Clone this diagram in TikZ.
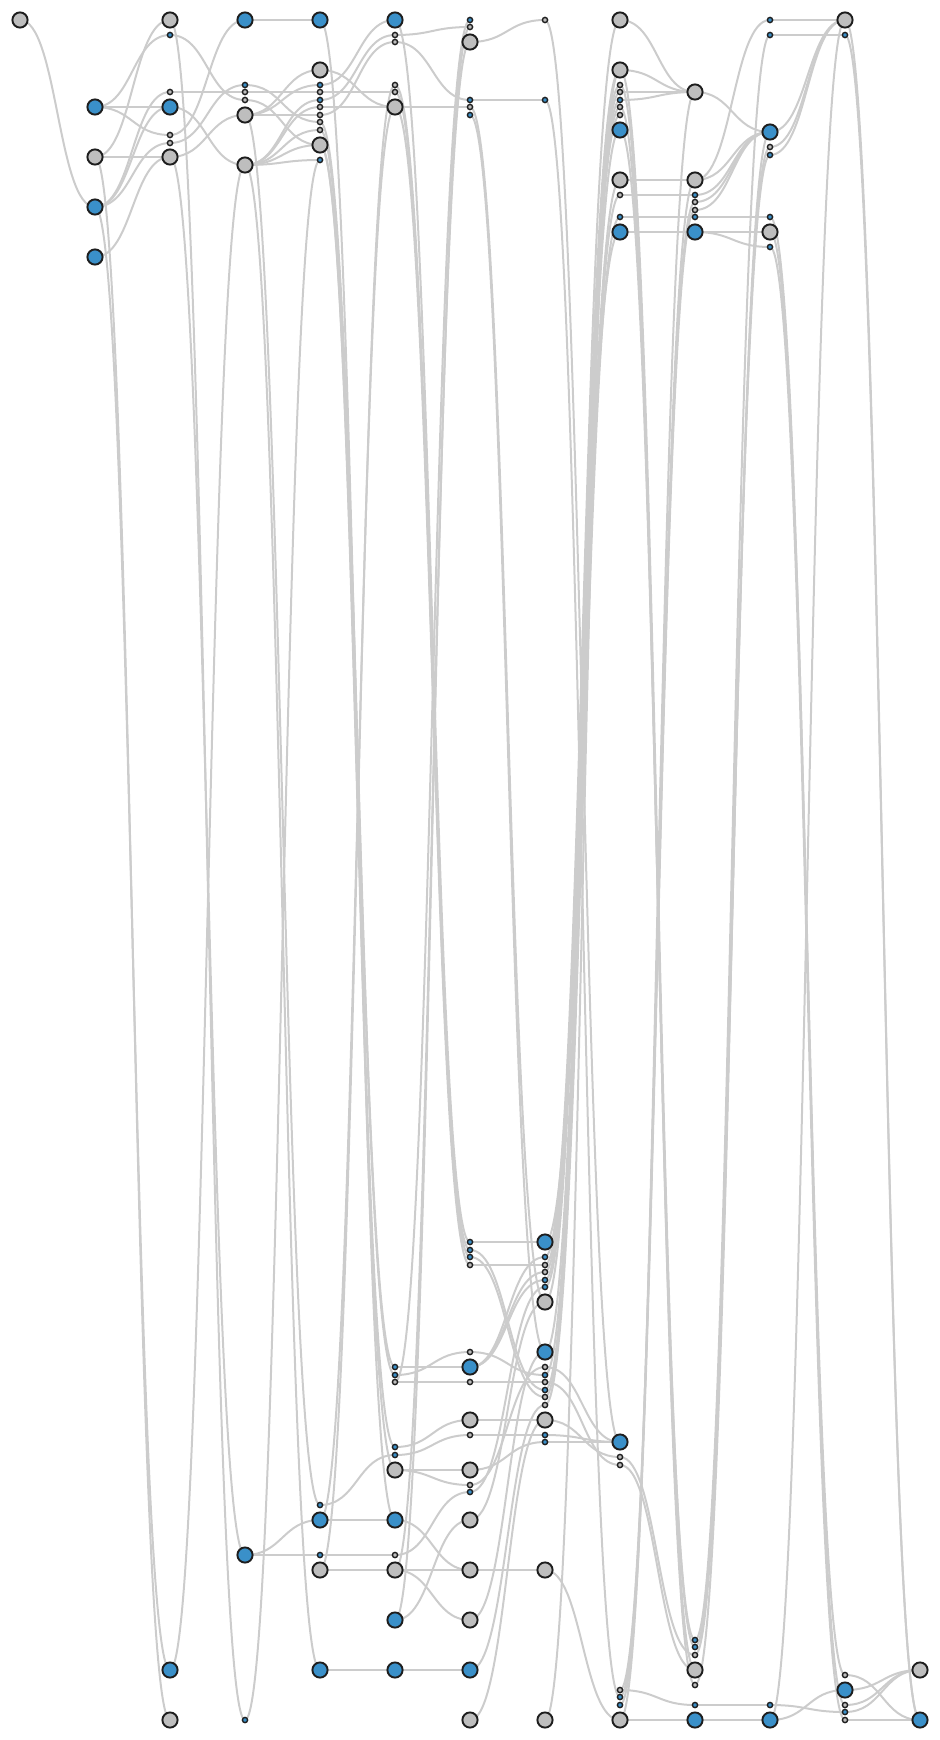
\documentclass[tikz,border=0pt]{standalone}
\usetikzlibrary{calc,backgrounds}
\definecolor{nblue}{HTML}{3A90C9}
\definecolor{ngray}{HTML}{BEBEBE}
\definecolor{edgec}{HTML}{CCCCCC}
\definecolor{nline}{HTML}{1E1E1E}
\tikzset{
  big/.style={circle,draw=nline,line width=0.95pt,minimum size=7.6pt,inner sep=0pt},
  sm/.style={circle,draw=nline,line width=0.7pt,minimum size=2.6pt,inner sep=0pt},
  bb/.style={big,fill=nblue}, bg/.style={big,fill=ngray},
  sb/.style={sm,fill=nblue}, sg/.style={sm,fill=ngray},
  link/.style={draw=edgec,line width=1pt}
}
\newcommand\lk[2]{\draw[link] let \p1=(#1.center),\p2=(#2.center) in (\p1) .. controls ({(\x1+\x2)/2},\y1) and ({(\x1+\x2)/2},\y2) .. (\p2);}
\begin{document}
\begin{tikzpicture}[x=0.5pt,y=-0.5pt]
\useasboundingbox (0,0) rectangle (940,1740);
% col 0
\node[bg] (a0) at (20,20) {};
% col 1
\node[bb] (b1) at (95,107) {};
\node[bg] (b2) at (95,157) {};
\node[bb] (b3) at (95,207) {};
\node[bb] (b4) at (95,257) {};
% col 2
\node[bg] (c1) at (170,20) {};
\node[sb] (c2) at (170,35) {};
\node[sg] (c3) at (170,92) {};
\node[bb] (c4) at (170,107) {};
\node[sg] (c5) at (170,135) {};
\node[sg] (c6) at (170,143) {};
\node[bg] (c7) at (170,157) {};
\node[bb] (c8) at (170,1670) {};
\node[bg] (c9) at (170,1720) {};
% col 3
\node[bb] (d1) at (245,20) {};
\node[sb] (d2) at (245,85) {};
\node[sg] (d3) at (245,92) {};
\node[sg] (d4) at (245,100) {};
\node[bg] (d5) at (245,115) {};
\node[bg] (d6) at (245,165) {};
\node[bb] (d7) at (245,1555) {};
\node[sb] (d8) at (245,1720) {};
% col 4
\node[bb] (e1) at (320,20) {};
\node[bg] (e2) at (320,70) {};
\node[sb] (e3) at (320,85) {};
\node[sg] (e4) at (320,92) {};
\node[sb] (e5) at (320,100) {};
\node[sg] (e6) at (320,107) {};
\node[sg] (e7) at (320,115) {};
\node[sg] (e8) at (320,122) {};
\node[sg] (e9) at (320,130) {};
\node[bg] (e10) at (320,145) {};
\node[sb] (e11) at (320,160) {};
\node[sb] (e12) at (320,1505) {};
\node[bb] (e13) at (320,1520) {};
\node[sb] (e14) at (320,1555) {};
\node[bg] (e15) at (320,1570) {};
\node[bb] (e16) at (320,1670) {};
% col 5
\node[bb] (f1) at (395,20) {};
\node[sg] (f2) at (395,35) {};
\node[sg] (f3) at (395,42) {};
\node[sg] (f4) at (395,85) {};
\node[sg] (f5) at (395,92) {};
\node[bg] (f6) at (395,107) {};
\node[sb] (f7) at (395,1367) {};
\node[sb] (f8) at (395,1375) {};
\node[sg] (f9) at (395,1382) {};
\node[sb] (f10) at (395,1447) {};
\node[sb] (f11) at (395,1455) {};
\node[bg] (f12) at (395,1470) {};
\node[bb] (f13) at (395,1520) {};
\node[sg] (f14) at (395,1555) {};
\node[bg] (f15) at (395,1570) {};
\node[bb] (f16) at (395,1620) {};
\node[bb] (f17) at (395,1670) {};
% col 6
\node[sb] (g1) at (470,20) {};
\node[sg] (g2) at (470,27) {};
\node[bg] (g3) at (470,42) {};
\node[sb] (g4) at (470,100) {};
\node[sg] (g5) at (470,107) {};
\node[sb] (g6) at (470,115) {};
\node[sb] (g7) at (470,1242) {};
\node[sb] (g8) at (470,1250) {};
\node[sb] (g9) at (470,1257) {};
\node[sg] (g10) at (470,1265) {};
\node[sg] (g11) at (470,1352) {};
\node[bb] (g12) at (470,1367) {};
\node[sg] (g13) at (470,1382) {};
\node[bg] (g14) at (470,1420) {};
\node[sg] (g15) at (470,1435) {};
\node[bg] (g16) at (470,1470) {};
\node[sg] (g17) at (470,1485) {};
\node[sb] (g18) at (470,1492) {};
\node[bg] (g19) at (470,1520) {};
\node[bg] (g20) at (470,1570) {};
\node[bg] (g21) at (470,1620) {};
\node[bb] (g22) at (470,1670) {};
\node[bg] (g23) at (470,1720) {};
% col 7
\node[sg] (h1) at (545,20) {};
\node[sb] (h2) at (545,100) {};
\node[bb] (h3) at (545,1242) {};
\node[sb] (h4) at (545,1257) {};
\node[sg] (h5) at (545,1265) {};
\node[sg] (h6) at (545,1272) {};
\node[sb] (h7) at (545,1280) {};
\node[sb] (h8) at (545,1287) {};
\node[bg] (h9) at (545,1302) {};
\node[bb] (h10) at (545,1352) {};
\node[sg] (h11) at (545,1367) {};
\node[sb] (h12) at (545,1375) {};
\node[sg] (h13) at (545,1382) {};
\node[sb] (h14) at (545,1390) {};
\node[sg] (h15) at (545,1397) {};
\node[sg] (h16) at (545,1405) {};
\node[bg] (h17) at (545,1420) {};
\node[sb] (h18) at (545,1435) {};
\node[sb] (h19) at (545,1442) {};
\node[bg] (h20) at (545,1570) {};
\node[bg] (h21) at (545,1720) {};
% col 8
\node[bg] (i1) at (620,20) {};
\node[bg] (i2) at (620,70) {};
\node[sg] (i3) at (620,85) {};
\node[sg] (i4) at (620,92) {};
\node[sb] (i5) at (620,100) {};
\node[sg] (i6) at (620,107) {};
\node[sg] (i7) at (620,115) {};
\node[bb] (i8) at (620,130) {};
\node[bg] (i9) at (620,180) {};
\node[sg] (i10) at (620,195) {};
\node[sb] (i11) at (620,217) {};
\node[bb] (i12) at (620,232) {};
\node[bb] (i13) at (620,1442) {};
\node[sg] (i14) at (620,1457) {};
\node[sg] (i15) at (620,1465) {};
\node[sg] (i16) at (620,1690) {};
\node[sb] (i17) at (620,1697) {};
\node[sb] (i18) at (620,1705) {};
\node[bg] (i19) at (620,1720) {};
% col 9
\node[bg] (j1) at (695,92) {};
\node[bg] (j2) at (695,180) {};
\node[sb] (j3) at (695,195) {};
\node[sg] (j4) at (695,202) {};
\node[sg] (j5) at (695,210) {};
\node[sb] (j6) at (695,217) {};
\node[bb] (j7) at (695,232) {};
\node[sb] (j8) at (695,1640) {};
\node[sb] (j9) at (695,1647) {};
\node[sg] (j10) at (695,1655) {};
\node[bg] (j11) at (695,1670) {};
\node[sg] (j12) at (695,1685) {};
\node[sb] (j13) at (695,1705) {};
\node[bb] (j14) at (695,1720) {};
% col 10
\node[sb] (k1) at (770,20) {};
\node[sb] (k2) at (770,35) {};
\node[bb] (k3) at (770,132) {};
\node[sg] (k4) at (770,147) {};
\node[sb] (k5) at (770,155) {};
\node[sb] (k6) at (770,217) {};
\node[bg] (k7) at (770,232) {};
\node[sb] (k8) at (770,247) {};
\node[sb] (k9) at (770,1705) {};
\node[bb] (k10) at (770,1720) {};
% col 11
\node[bg] (l1) at (845,20) {};
\node[sb] (l2) at (845,35) {};
\node[sg] (l3) at (845,1675) {};
\node[bb] (l4) at (845,1690) {};
\node[sg] (l5) at (845,1705) {};
\node[sb] (l6) at (845,1712) {};
\node[sg] (l7) at (845,1720) {};
% col 12
\node[bg] (m1) at (920,1670) {};
\node[bb] (m2) at (920,1720) {};

\begin{scope}[on background layer]
% col 0-1
\lk{a0}{b3}
% col 1-2
\lk{b1}{c4}\lk{b1}{c2}\lk{b1}{c5}\lk{b2}{c7}\lk{b2}{c1}
\lk{b3}{c3}\lk{b3}{c4}\lk{b3}{c6}\lk{b4}{c7}
\lk{b2}{c9}\lk{b3}{c8}
% col 2-3
\lk{c1}{d8}\lk{c7}{d7}\lk{d6}{c8}
\lk{c2}{d4}\lk{c5}{d1}\lk{c6}{d2}\lk{c3}{d3}\lk{c4}{d6}\lk{c7}{d5}
% col 3-4
\lk{d1}{e1}\lk{d3}{e4}\lk{d5}{e7}\lk{d5}{e3}\lk{d5}{e2}\lk{d2}{e8}\lk{d4}{e10}
\lk{d6}{e5}\lk{d6}{e6}\lk{d6}{e9}\lk{d6}{e11}\lk{d6}{e10}
\lk{d5}{e12}\lk{d6}{e16}\lk{e11}{d8}
\lk{d7}{e13}\lk{d7}{e14}
% col 4-5
\lk{e3}{f1}\lk{e4}{f5}\lk{e6}{f6}\lk{e2}{f6}\lk{e5}{f2}\lk{e7}{f3}
\lk{e1}{f13}\lk{e8}{f7}\lk{e9}{f8}\lk{e10}{f10}\lk{e10}{f12}
\lk{f4}{e15}\lk{f6}{e13}
\lk{e12}{f11}\lk{e13}{f13}\lk{e14}{f14}\lk{e15}{f15}\lk{e16}{f17}
% col 5-6
\lk{f2}{g2}\lk{f3}{g4}\lk{f6}{g5}
\lk{f1}{g7}\lk{f4}{g8}\lk{f5}{g9}\lk{f6}{g10}
\lk{g1}{f9}\lk{g2}{f16}\lk{g3}{f15}
\lk{f7}{g12}\lk{f8}{g11}\lk{f9}{g13}\lk{f10}{g14}\lk{f11}{g15}\lk{f12}{g16}\lk{f12}{g17}
\lk{f13}{g20}\lk{f14}{g18}\lk{f15}{g20}\lk{f15}{g21}\lk{f16}{g19}\lk{f17}{g22}
% col 6-7
\lk{g3}{h1}\lk{g4}{h2}\lk{g5}{h9}\lk{g6}{h10}
\lk{g7}{h3}\lk{g8}{h14}\lk{g9}{h15}\lk{g10}{h5}\lk{g11}{h12}\lk{g12}{h4}\lk{g12}{h6}\lk{g12}{h7}
\lk{g13}{h13}\lk{g14}{h17}\lk{g15}{h18}\lk{g16}{h19}\lk{g17}{h11}\lk{g18}{h8}
\lk{h9}{g19}\lk{h10}{g21}\lk{h16}{g22}\lk{h17}{g23}\lk{g20}{h20}
% col 7-8
\lk{i1}{h4}\lk{i2}{h6}\lk{i3}{h7}\lk{i4}{h8}\lk{i5}{h9}\lk{i6}{h10}\lk{i7}{h5}
\lk{i8}{h12}\lk{i9}{h14}\lk{i10}{h15}\lk{i11}{h16}\lk{i12}{h3}\lk{i2}{h21}
\lk{h1}{i13}\lk{h2}{i17}
\lk{h11}{i13}\lk{h18}{i13}\lk{h19}{i13}\lk{h17}{i14}\lk{h13}{i15}\lk{h20}{i19}
% col 8-9
\lk{i1}{j1}\lk{i2}{j1}\lk{i4}{j1}\lk{i5}{j1}\lk{i9}{j2}\lk{i10}{j3}\lk{i11}{j6}\lk{i12}{j7}
\lk{i8}{j8}\lk{i2}{j9}\lk{i6}{j11}\lk{i3}{j12}
\lk{i14}{j10}\lk{i15}{j11}
\lk{j2}{i17}\lk{j4}{i16}\lk{j5}{i18}\lk{j1}{i19}
\lk{i16}{j13}\lk{i19}{j14}
% col 9-10
\lk{j1}{k3}\lk{j2}{k3}\lk{j2}{k1}\lk{j3}{k3}\lk{j4}{k3}\lk{j5}{k3}
\lk{j6}{k6}\lk{j7}{k7}\lk{j7}{k8}
\lk{k2}{j8}\lk{k4}{j9}\lk{k5}{j10}\lk{k3}{j12}
\lk{j13}{k9}\lk{j14}{k10}
% col 10-11
\lk{k1}{l1}\lk{k2}{l2}\lk{k3}{l1}\lk{k4}{l1}\lk{k5}{l1}
\lk{l1}{k10}\lk{k6}{l5}\lk{k7}{l3}\lk{k8}{l7}
\lk{k9}{l6}\lk{k10}{l4}
% col 11-12
\lk{l3}{m2}\lk{l4}{m1}\lk{l5}{m1}\lk{l6}{m1}\lk{l7}{m2}
\lk{l1}{m2}\lk{l2}{m2}
\end{scope}
\end{tikzpicture}
\end{document}
